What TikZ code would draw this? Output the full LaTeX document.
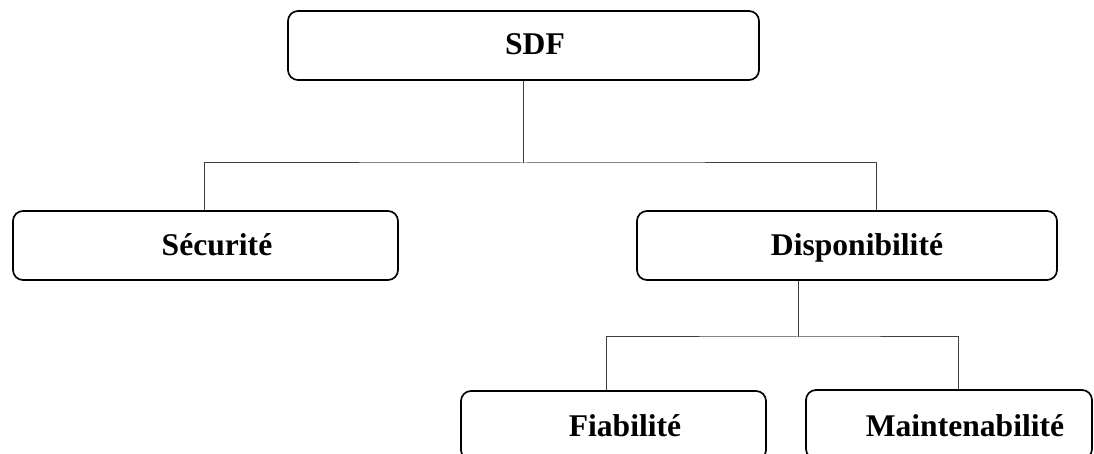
\documentclass[tikz,border=0pt]{standalone}
\usepackage{fontspec}
\setmainfont{Liberation Serif}
\begin{document}
\begin{tikzpicture}[x=0.5pt,y=-0.5pt,
  box/.style={draw=black,line width=0.85pt,rounded corners=5pt,minimum height=34.5pt,inner sep=0pt},
  lbl/.style={anchor=base,font=\fontsize{15.8}{18}\selectfont\bfseries,inner sep=0pt},
  conn/.style={draw=black!75,line width=0.5pt}]
\useasboundingbox (0,0) rectangle (1094,454);
\clip (0,0) rectangle (1094,454);
\node[box,minimum width=235.5pt] (sdf) at (523.5,45.5) {};
\node[box,minimum width=192.5pt] (sec) at (205.5,245.5) {};
\node[box,minimum width=210pt] (dsp) at (847,245.5) {};
\node[box,minimum width=152.5pt] (fia) at (613.5,425.5) {};
\node[box,minimum width=143pt] (mai) at (949,424.5) {};
\node[lbl] (sdft) at (535,55) {SDF};
\node[lbl] (sect) at (217,255.5) {Sécurité};
\node[lbl] (dspt) at (857,255.5) {Disponibilité};
\node[lbl] (fiat) at (625,437) {Fiabilité};
\node[lbl] (mait) at (965,437) {Maintenabilité};
\coordinate (j1) at (523.5,163);
\coordinate (j2) at (798,337);
\draw[conn] (sdf.south) -- (j1);
\draw[conn] ([xshift=-0.75pt]sec.north) |- (j1) -| ([xshift=14.5pt]dsp.north);
\draw[conn] ([xshift=-24.5pt]dsp.south) -- (j2);
\draw[conn] ([xshift=-3.75pt]fia.north) |- (j2) -| ([xshift=4.5pt]mai.north);
\end{tikzpicture}
\end{document}
